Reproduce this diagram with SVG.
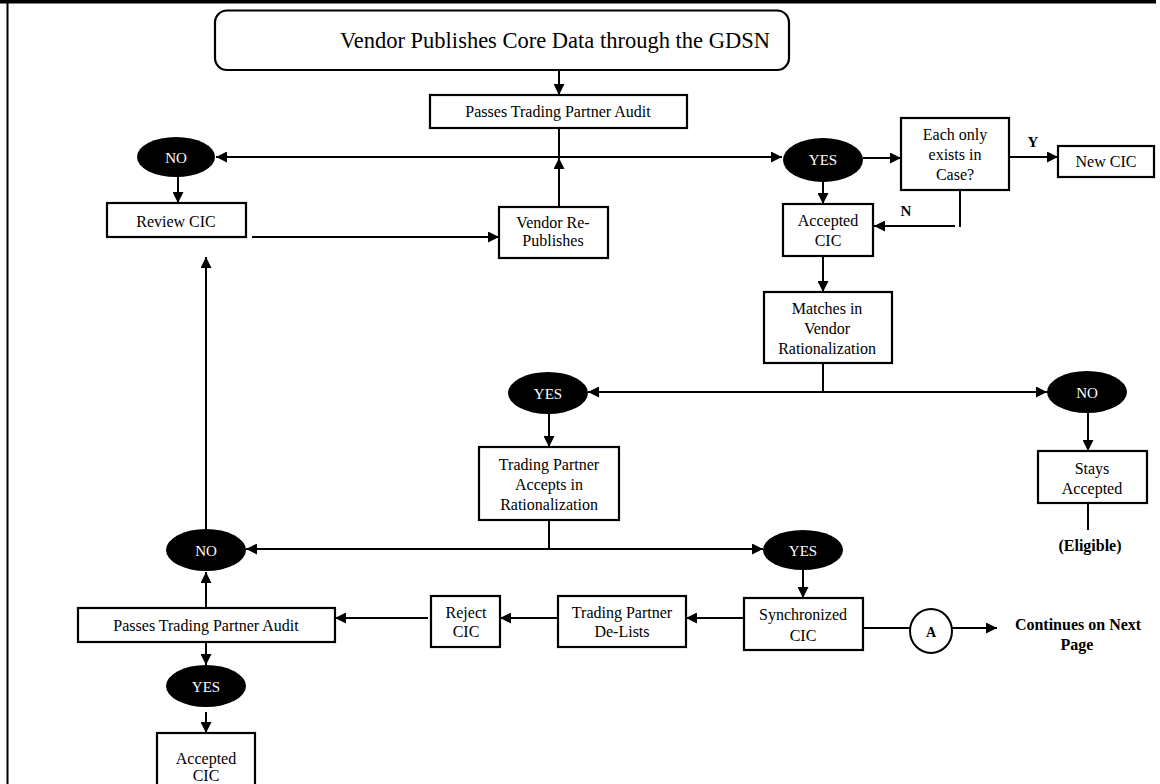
<svg xmlns="http://www.w3.org/2000/svg" width="1160" height="784" viewBox="0 0 1160 784">
<style>
.box{fill:#fff;stroke:#000;stroke-width:2.2}
.ov{fill:#000;stroke:none}
.t{font-family:"Liberation Serif","Times New Roman",serif;font-size:16px;fill:#000;text-anchor:middle}
.w{font-family:"Liberation Serif","Times New Roman",serif;font-size:15px;fill:#fff;text-anchor:middle}
.b{font-family:"Liberation Serif","Times New Roman",serif;font-size:16px;font-weight:bold;fill:#000;text-anchor:middle}
.c line{stroke:#000;stroke-width:2}
.c line.a{marker-end:url(#ah)}
</style>
<defs>
<marker id="ah" markerUnits="userSpaceOnUse" markerWidth="11" markerHeight="11" refX="11" refY="5.5" orient="auto">
<path d="M0,0 L11,5.5 L0,11 z" fill="#000"/>
</marker>
</defs>
<rect x="0" y="0" width="1160" height="784" fill="#fff"/>
<rect x="0" y="0" width="1156" height="3.5" fill="#000"/>
<rect x="6.5" y="0" width="2" height="784" fill="#000"/>

<g class="c" id="connectors">
<line class="a" x1="559" y1="70" x2="559" y2="95"/>
<line x1="559" y1="128" x2="559" y2="157"/>
<line class="a" x1="559" y1="207" x2="559" y2="158"/>
<line class="a" x1="559" y1="157" x2="216" y2="157"/>
<line class="a" x1="559" y1="157" x2="782" y2="157"/>
<line class="a" x1="178" y1="177" x2="178" y2="203"/>
<line class="a" x1="252" y1="237" x2="499" y2="237"/>
<line class="a" x1="863" y1="158" x2="901" y2="158"/>
<line class="a" x1="1009" y1="157" x2="1058" y2="157"/>
<line class="a" x1="823" y1="182" x2="823" y2="204"/>
<line x1="960" y1="190" x2="960" y2="227"/>
<line class="a" x1="955" y1="226" x2="874" y2="226"/>
<line class="a" x1="823" y1="256" x2="823" y2="292"/>
<line x1="823" y1="363" x2="823" y2="392"/>
<line class="a" x1="823" y1="392" x2="588" y2="392"/>
<line class="a" x1="823" y1="392" x2="1047" y2="392"/>
<line class="a" x1="1088" y1="413" x2="1088" y2="451"/>
<line x1="1088" y1="500" x2="1088" y2="530"/>
<line class="a" x1="549" y1="414" x2="549" y2="447"/>
<line x1="549" y1="520" x2="549" y2="549"/>
<line class="a" x1="549" y1="549" x2="246" y2="549"/>
<line class="a" x1="549" y1="549" x2="763" y2="549"/>
<line class="a" x1="206" y1="530" x2="206" y2="257"/>
<line class="a" x1="206" y1="608" x2="206" y2="572"/>
<line class="a" x1="206" y1="642" x2="206" y2="665"/>
<line class="a" x1="206" y1="712" x2="206" y2="733"/>
<line class="a" x1="803" y1="570" x2="803" y2="598"/>
<line class="a" x1="744" y1="618" x2="686" y2="618"/>
<line class="a" x1="558" y1="618" x2="500" y2="618"/>
<line class="a" x1="428" y1="618" x2="335" y2="618"/>
<line x1="863" y1="628" x2="910" y2="628"/>
<line class="a" x1="952" y1="628" x2="997" y2="628"/>
</g>

<g id="n-start">
<rect class="box" x="215" y="10.5" width="574" height="59.5" rx="12"/>
<text class="t" x="340" y="48" style="font-size:22.5px;text-anchor:start">Vendor Publishes Core Data through the  GDSN</text>
</g>
<g id="n-audit1"><rect class="box" x="430" y="95" width="257" height="33"/><text class="t" x="558" y="117">Passes Trading Partner Audit</text></g>
<g id="n-no1"><ellipse class="ov" cx="176" cy="157" rx="39" ry="20"/><text class="w" x="176" y="163">NO</text></g>
<g id="n-review"><rect class="box" x="107" y="203" width="139" height="34"/><text class="t" x="176" y="227">Review CIC</text></g>
<g id="n-republish"><rect class="box" x="499" y="207" width="109" height="51"/><text class="t" x="553" y="228">Vendor Re-</text><text class="t" x="553" y="246">Publishes</text></g>
<g id="n-yes1"><ellipse class="ov" cx="823" cy="160" rx="40" ry="22"/><text class="w" x="823" y="165">YES</text></g>
<g id="n-each"><rect class="box" x="901" y="118" width="108" height="72"/><text class="t" x="955" y="140">Each only</text><text class="t" x="955" y="160">exists in</text><text class="t" x="955" y="180">Case?</text></g>
<g id="n-newcic"><rect class="box" x="1058" y="146" width="96" height="31"/><text class="t" x="1106" y="167">New CIC</text></g>
<text class="b" x="1033" y="147" style="font-size:15px">Y</text>
<text class="b" x="906" y="216" style="font-size:15px">N</text>
<g id="n-acc1"><rect class="box" x="783" y="204" width="90" height="52"/><text class="t" x="828" y="226">Accepted</text><text class="t" x="828" y="246">CIC</text></g>
<g id="n-matches"><rect class="box" x="764" y="292" width="128" height="71"/><text class="t" x="827" y="314">Matches in</text><text class="t" x="827" y="334">Vendor</text><text class="t" x="827" y="354">Rationalization</text></g>
<g id="n-yes2"><ellipse class="ov" cx="548" cy="393" rx="40" ry="21"/><text class="w" x="548" y="399">YES</text></g>
<g id="n-no2"><ellipse class="ov" cx="1087" cy="392" rx="40" ry="21"/><text class="w" x="1087" y="398">NO</text></g>
<g id="n-stays"><rect class="box" x="1038" y="451" width="109" height="52"/><text class="t" x="1092" y="474">Stays</text><text class="t" x="1092" y="494">Accepted</text></g>
<text class="b" x="1090" y="551">(Eligible)</text>
<g id="n-tpaccepts"><rect class="box" x="479" y="447" width="140" height="73"/><text class="t" x="549" y="470">Trading Partner</text><text class="t" x="549" y="490">Accepts in</text><text class="t" x="549" y="510">Rationalization</text></g>
<g id="n-no3"><ellipse class="ov" cx="206" cy="550" rx="40" ry="21"/><text class="w" x="206" y="556">NO</text></g>
<g id="n-yes3"><ellipse class="ov" cx="803" cy="550" rx="40" ry="20"/><text class="w" x="803" y="556">YES</text></g>
<g id="n-audit2"><rect class="box" x="78" y="608" width="257" height="34"/><text class="t" x="206" y="631">Passes Trading Partner Audit</text></g>
<g id="n-reject"><rect class="box" x="431" y="596" width="69" height="51"/><text class="t" x="466" y="618">Reject</text><text class="t" x="466" y="637">CIC</text></g>
<g id="n-delist"><rect class="box" x="558" y="596" width="128" height="51"/><text class="t" x="622" y="618">Trading Partner</text><text class="t" x="622" y="637">De-Lists</text></g>
<g id="n-sync"><rect class="box" x="744" y="598" width="119" height="52"/><text class="t" x="803" y="620">Synchronized</text><text class="t" x="803" y="641">CIC</text></g>
<g id="n-a"><ellipse fill="#fff" stroke="#000" stroke-width="2" cx="931" cy="631" rx="21" ry="22"/><text class="b" x="931" y="637" style="font-size:14px">A</text></g>
<text class="b" x="1078" y="630">Continues on Next</text>
<text class="b" x="1077" y="650">Page</text>
<g id="n-yes4"><ellipse class="ov" cx="206" cy="686" rx="40" ry="21"/><text class="w" x="206" y="692">YES</text></g>
<g id="n-acc2"><rect class="box" x="157" y="733" width="98" height="60"/><text class="t" x="206" y="764">Accepted</text><text class="t" x="206" y="781">CIC</text></g>
</svg>
